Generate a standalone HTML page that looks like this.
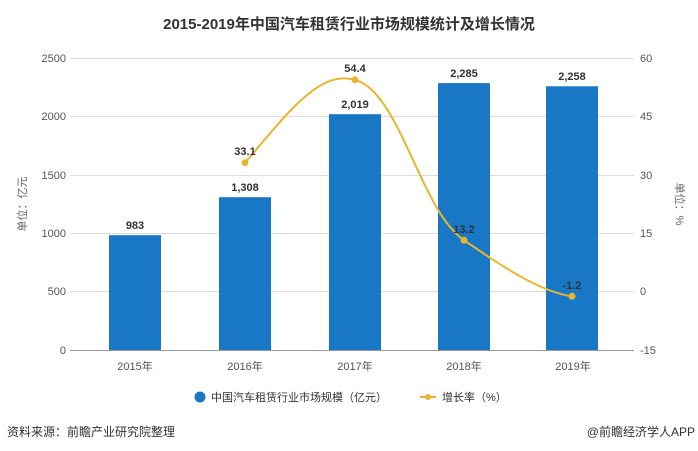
<!DOCTYPE html>
<html><head><meta charset="utf-8"><style>
body{margin:0;background:#fff;}
svg{display:block;font-family:"Liberation Sans","Noto Sans CJK SC",sans-serif;}
</style></head><body>
<svg width="698" height="451" viewBox="0 0 698 451">
<text x="349" y="29" text-anchor="middle" font-size="15" font-weight="bold" fill="#333">2015-2019年中国汽车租赁行业市场规模统计及增长情况</text>
<g stroke="#ddd" stroke-width="1">
<line x1="70" y1="58.5" x2="634" y2="58.5"/>
<line x1="70" y1="116.5" x2="634" y2="116.5"/>
<line x1="70" y1="175.5" x2="634" y2="175.5"/>
<line x1="70" y1="233.5" x2="634" y2="233.5"/>
<line x1="70" y1="291.5" x2="634" y2="291.5"/>
</g>
<line x1="70" y1="350.5" x2="634" y2="350.5" stroke="#999"/>
<g font-size="11" fill="#555" text-anchor="end">
<text x="66" y="62">2500</text><text x="66" y="120">2000</text><text x="66" y="179">1500</text><text x="66" y="237">1000</text><text x="66" y="295">500</text><text x="66" y="354">0</text>
</g>
<g font-size="11" fill="#555" text-anchor="start">
<text x="640" y="62">60</text><text x="640" y="120">45</text><text x="640" y="179">30</text><text x="640" y="237">15</text><text x="640" y="295">0</text><text x="640" y="354">-15</text>
</g>
<text transform="translate(26,204) rotate(-90)" font-size="11" fill="#666" text-anchor="middle">单位：亿元</text>
<text transform="translate(676,204) rotate(90)" font-size="11" fill="#666" text-anchor="middle">单位：%</text>
<g fill="#1878c6">
<rect x="109" y="235.2" width="52" height="114.8"/>
<rect x="219" y="197.2" width="52" height="152.8"/>
<rect x="329" y="114.2" width="52" height="235.8"/>
<rect x="438" y="83.1" width="52" height="266.9"/>
<rect x="546" y="86.3" width="52" height="263.7"/>
</g>
<g font-size="11" font-weight="bold" fill="#333" text-anchor="middle">
<text x="135" y="229">983</text><text x="245" y="191">1,308</text><text x="355" y="108">2,019</text><text x="464" y="77">2,285</text><text x="572" y="80">2,258</text>
</g>
<path d="M245,162.7 C290,110 320,70 355,79.8 C400,92 420,210 464,240.2 C500,265 540,292 572,296.3" fill="none" stroke="#e8b530" stroke-width="2"/>
<g fill="#e8b530">
<circle cx="245" cy="162.7" r="3.5"/><circle cx="355" cy="79.8" r="3.5"/><circle cx="464" cy="240.2" r="3.5"/><circle cx="572" cy="296.3" r="3.5"/>
</g>
<g font-size="11" font-weight="bold" fill="#333" text-anchor="middle">
<text x="245" y="155">33.1</text><text x="355" y="72">54.4</text><text x="464" y="233">13.2</text><text x="572" y="289">-1.2</text>
</g>
<g font-size="11" fill="#555" text-anchor="middle">
<text x="135" y="370">2015年</text><text x="245" y="370">2016年</text><text x="355" y="370">2017年</text><text x="464" y="370">2018年</text><text x="573" y="370">2019年</text>
</g>
<circle cx="200" cy="397" r="5.5" fill="#1878c6"/>
<text x="211" y="401" font-size="11" fill="#333">中国汽车租赁行业市场规模（亿元）</text>
<line x1="420" y1="397" x2="436" y2="397" stroke="#e8b530" stroke-width="2"/>
<circle cx="428" cy="397" r="3" fill="#e8b530"/>
<text x="442" y="401" font-size="11" fill="#333">增长率（%）</text>
<text x="7" y="436" font-size="12" fill="#333">资料来源：前瞻产业研究院整理</text>
<text x="695" y="436" font-size="12" fill="#333" text-anchor="end">@前瞻经济学人APP</text>
</svg>
</body></html>
